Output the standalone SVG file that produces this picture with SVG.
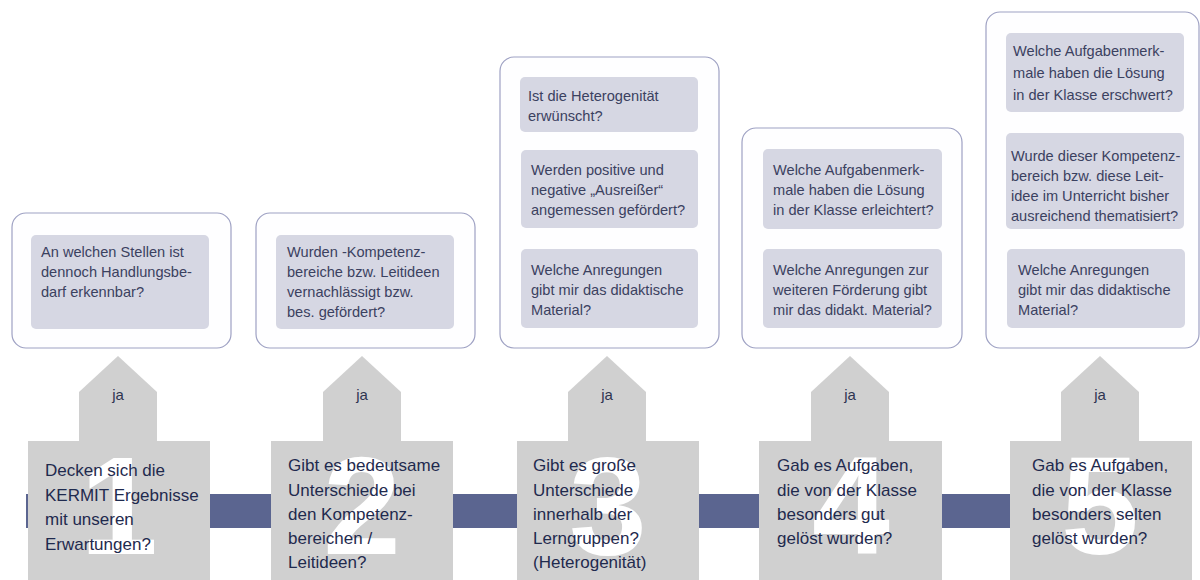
<svg xmlns="http://www.w3.org/2000/svg" width="1200" height="580" viewBox="0 0 1200 580">
<style>
.outer{fill:#fefeff;stroke:#9ea1c3;stroke-width:1.2}
.inner{fill:#d6d7e3}
.qt{font-family:"Liberation Sans",Arial,sans-serif;font-size:14.6px;fill:#3b4160}
.step{fill:#d0d0d0}
.num{font-family:"Liberation Sans",Arial,sans-serif;font-weight:bold;font-size:140px;fill:#ffffff;text-anchor:middle}
.bt{font-family:"Liberation Sans",Arial,sans-serif;font-size:17px;fill:#1f2a4e}
.ja{font-family:"Liberation Sans",Arial,sans-serif;font-size:15px;fill:#2e3550;text-anchor:middle}
.bar{fill:#5b6590}
.arr{fill:#d0d0d0}
</style>

<g id="connectors">
  <rect class="bar" x="26" y="494" width="990" height="34"/>
  <polygon class="arr" points="79,442 79,392 118,356 157,392 157,442"/>
  <polygon class="arr" points="323,442 323,392 362,356 401,392 401,442"/>
  <polygon class="arr" points="568,442 568,392 607,356 646,392 646,442"/>
  <polygon class="arr" points="811,442 811,392 850,356 889,392 889,442"/>
  <polygon class="arr" points="1061,442 1061,392 1100,356 1139,392 1139,442"/>
  <text class="ja" x="118" y="400">ja</text>
  <text class="ja" x="362" y="400">ja</text>
  <text class="ja" x="607" y="400">ja</text>
  <text class="ja" x="850" y="400">ja</text>
  <text class="ja" x="1100" y="400">ja</text>
</g>

<g id="top1">
  <rect class="outer" x="12" y="213" width="219" height="135" rx="14"/>
  <rect class="inner" x="31" y="235" width="178" height="94" rx="5"/>
  <text class="qt" x="41"><tspan x="41" y="257">An welchen Stellen ist</tspan><tspan x="41" y="277">dennoch Handlungsbe-</tspan><tspan x="41" y="297">darf erkennbar?</tspan></text>
</g>

<g id="top2">
  <rect class="outer" x="256" y="213" width="219" height="135" rx="14"/>
  <rect class="inner" x="276" y="235" width="178" height="94" rx="5"/>
  <text class="qt"><tspan x="287" y="257">Wurden -Kompetenz-</tspan><tspan x="287" y="277">bereiche bzw. Leitideen</tspan><tspan x="287" y="297">vernachlässigt bzw.</tspan><tspan x="287" y="317">bes. gefördert?</tspan></text>
</g>

<g id="top3">
  <rect class="outer" x="500" y="57" width="219" height="291" rx="14"/>
  <rect class="inner" x="520" y="77" width="178" height="55" rx="5"/>
  <text class="qt"><tspan x="528" y="101">Ist die Heterogenität</tspan><tspan x="528" y="121">erwünscht?</tspan></text>
  <rect class="inner" x="521" y="150" width="177" height="78" rx="5"/>
  <text class="qt"><tspan x="531" y="175">Werden positive und</tspan><tspan x="531" y="195">negative „Ausreißer“</tspan><tspan x="531" y="215">angemessen gefördert?</tspan></text>
  <rect class="inner" x="521" y="249" width="177" height="79" rx="5"/>
  <text class="qt"><tspan x="531" y="275">Welche Anregungen</tspan><tspan x="531" y="295">gibt mir das didaktische</tspan><tspan x="531" y="315">Material?</tspan></text>
</g>

<g id="top4">
  <rect class="outer" x="742" y="128" width="220" height="220" rx="14"/>
  <rect class="inner" x="763" y="149" width="179" height="80" rx="5"/>
  <text class="qt"><tspan x="773" y="175">Welche Aufgabenmerk-</tspan><tspan x="773" y="195">male haben die Lösung</tspan><tspan x="773" y="215">in der Klasse erleichtert?</tspan></text>
  <rect class="inner" x="763" y="249" width="179" height="79" rx="5"/>
  <text class="qt"><tspan x="773" y="275">Welche Anregungen zur</tspan><tspan x="773" y="295">weiteren Förderung gibt</tspan><tspan x="773" y="315">mir das didakt. Material?</tspan></text>
</g>

<g id="top5">
  <rect class="outer" x="986" y="12" width="213" height="336" rx="14"/>
  <rect class="inner" x="1006" y="33" width="178" height="79" rx="5"/>
  <text class="qt"><tspan x="1013" y="56">Welche Aufgabenmerk-</tspan><tspan x="1013" y="78">male haben die Lösung</tspan><tspan x="1013" y="100">in der Klasse erschwert?</tspan></text>
  <rect class="inner" x="1006" y="133" width="178" height="96" rx="5"/>
  <text class="qt"><tspan x="1011" y="161">Wurde dieser Kompetenz-</tspan><tspan x="1011" y="181">bereich bzw. diese Leit-</tspan><tspan x="1011" y="201">idee im Unterricht bisher</tspan><tspan x="1011" y="221">ausreichend thematisiert?</tspan></text>
  <rect class="inner" x="1007" y="249" width="178" height="79" rx="5"/>
  <text class="qt"><tspan x="1018" y="275">Welche Anregungen</tspan><tspan x="1018" y="295">gibt mir das didaktische</tspan><tspan x="1018" y="315">Material?</tspan></text>
</g>

<g id="step1">
  <rect class="step" x="28" y="441" width="182" height="139"/>
  <text class="num" x="119" y="554">1</text>
  <text class="bt"><tspan x="45" y="476">Decken sich die</tspan><tspan x="45" y="501">KERMIT Ergebnisse</tspan><tspan x="45" y="525">mit unseren</tspan><tspan x="45" y="550">Erwartungen?</tspan></text>
</g>

<g id="step2">
  <rect class="step" x="271" y="441" width="182" height="139"/>
  <text class="num" x="362" y="554">2</text>
  <text class="bt"><tspan x="288" y="471">Gibt es bedeutsame</tspan><tspan x="288" y="496">Unterschiede bei</tspan><tspan x="288" y="520">den Kompetenz-</tspan><tspan x="288" y="544">bereichen  /</tspan><tspan x="288" y="568">Leitideen?</tspan></text>
</g>

<g id="step3">
  <rect class="step" x="517" y="441" width="182" height="139"/>
  <text class="num" x="608" y="554">3</text>
  <text class="bt"><tspan x="533" y="471">Gibt es große</tspan><tspan x="533" y="496">Unterschiede</tspan><tspan x="533" y="520">innerhalb der</tspan><tspan x="533" y="544">Lerngruppen?</tspan><tspan x="533" y="568">(Heterogenität)</tspan></text>
</g>

<g id="step4">
  <rect class="step" x="759" y="441" width="183" height="139"/>
  <text class="num" x="851" y="554">4</text>
  <text class="bt"><tspan x="777" y="471">Gab es Aufgaben,</tspan><tspan x="777" y="496">die von der Klasse</tspan><tspan x="777" y="520">besonders gut</tspan><tspan x="777" y="544">gelöst wurden?</tspan></text>
</g>

<g id="step5">
  <rect class="step" x="1010" y="441" width="182" height="139"/>
  <text class="num" x="1100" y="554">5</text>
  <text class="bt"><tspan x="1032" y="471">Gab es Aufgaben,</tspan><tspan x="1032" y="496">die von der Klasse</tspan><tspan x="1032" y="520">besonders selten</tspan><tspan x="1032" y="544">gelöst wurden?</tspan></text>
</g>
</svg>
